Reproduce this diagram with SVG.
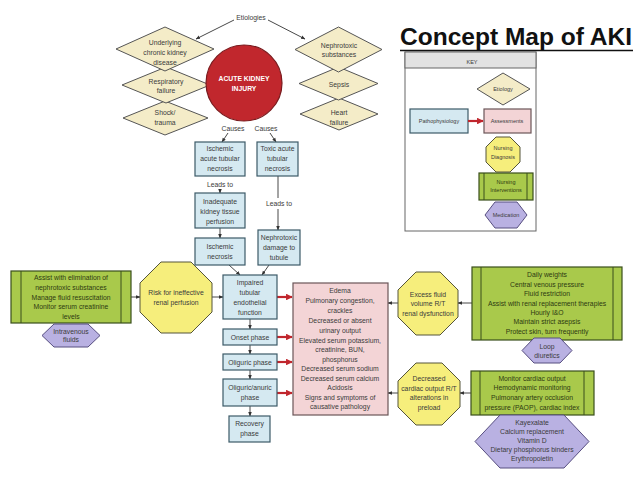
<svg xmlns="http://www.w3.org/2000/svg" width="638" height="479" viewBox="0 0 638 479">
<defs>
<marker id="ar" viewBox="0 0 10 10" refX="9" refY="5" markerWidth="5" markerHeight="5" orient="auto"><path d="M0,1 L10,5 L0,9 z" fill="#333"/></marker>
<marker id="rar" viewBox="0 0 10 10" refX="9" refY="5" markerWidth="3" markerHeight="3" orient="auto"><path d="M0,0 L10,5 L0,10 z" fill="#c0262d"/></marker>
<style>
text{font-family:"Liberation Sans",Arial,sans-serif;font-size:6.8px;fill:#3b3b3b;text-anchor:middle}
.dia{fill:#f4ecc8;stroke:#555;stroke-width:1}
.box{fill:#d5e9f1;stroke:#3c5a68;stroke-width:1.2}
.pink{fill:#f3d4d6;stroke:#6b5558;stroke-width:1.2}
.oct{fill:#f6ee7c;stroke:#55553a;stroke-width:1}
.grn{fill:#a9c94b;stroke:#3a4f1c;stroke-width:1.2}
.hex{fill:#b9b1e2;stroke:#574e80;stroke-width:1}
.ln{stroke:#333;stroke-width:0.9;fill:none}
.red{stroke:#c0262d;stroke-width:2.2;fill:none}
.g text,text.g{fill:#2e3a12}
</style>
</defs>
<rect width="638" height="479" fill="#fff"/>

<g id="title">
<text x="516" y="45" style="font-size:23px;font-weight:bold;fill:#111" textLength="232" lengthAdjust="spacingAndGlyphs">Concept Map of AKI</text>
<line x1="400" y1="50.5" x2="633" y2="50.5" stroke="#111" stroke-width="1.5"/>
</g>

<g id="key">
<rect x="405" y="52" width="131" height="179" fill="#fff" stroke="#666" stroke-width="1"/>
<rect x="405" y="52" width="131" height="16" fill="#e2e2e2" stroke="#666" stroke-width="1"/>
<text x="472" y="64" style="font-size:5.5px">KEY</text>
<polygon class="dia" points="477,89 503,73 530,89 503,105"/>
<text x="503" y="91" style="font-size:5.5px">Etiology</text>
<rect class="box" x="410" y="109" width="58" height="24"/>
<text x="439" y="123" style="font-size:5.5px">Pathophysiology</text>
<rect class="pink" x="484" y="109" width="47" height="24"/>
<text x="507" y="123" style="font-size:5.5px">Assessments</text>
<line class="red" x1="468" y1="121" x2="483" y2="121" marker-end="url(#rar)"/>
<polygon class="oct" points="496,137 510,137 520,147 520,162 510,172 496,172 486,162 486,147"/>
<text x="503" y="150" style="font-size:5.5px">Nursing</text>
<text x="503" y="159" style="font-size:5.5px">Diagnosis</text>
<rect class="grn" x="479" y="173" width="54" height="27"/>
<line x1="484" y1="173" x2="484" y2="200" stroke="#3a4f1c"/>
<line x1="527" y1="173" x2="527" y2="200" stroke="#3a4f1c"/>
<text class="g" x="506" y="184" style="font-size:5.5px">Nursing</text>
<text class="g" x="506" y="192" style="font-size:5.5px">Interventions</text>
<polygon class="hex" points="485,215 495,202 517,202 527,215 517,228 495,228"/>
<text x="506" y="217" style="font-size:5.5px">Medication</text>
</g>

<g id="connectors">
<line class="ln" x1="234" y1="20" x2="196" y2="39" marker-end="url(#ar)"/>
<line class="ln" x1="268" y1="20" x2="305" y2="39" marker-end="url(#ar)"/>
<line class="ln" x1="228" y1="133" x2="222" y2="142" marker-end="url(#ar)"/>
<line class="ln" x1="270" y1="133" x2="276" y2="142" marker-end="url(#ar)"/>
<line class="ln" x1="220" y1="189" x2="220" y2="193" marker-end="url(#ar)"/>
<line class="ln" x1="220" y1="228" x2="220" y2="238" marker-end="url(#ar)"/>
<line class="ln" x1="278" y1="176" x2="278" y2="198"/>
<line class="ln" x1="278" y1="209" x2="278" y2="230" marker-end="url(#ar)"/>
<line class="ln" x1="229" y1="265" x2="240" y2="275" marker-end="url(#ar)"/>
<line class="ln" x1="269" y1="265" x2="262" y2="275" marker-end="url(#ar)"/>
<line class="ln" x1="131" y1="297" x2="140" y2="297" marker-end="url(#ar)"/>
<line class="ln" x1="212" y1="297" x2="223" y2="297" marker-end="url(#ar)"/>
<line class="ln" x1="250" y1="319" x2="250" y2="329" marker-end="url(#ar)"/>
<line class="ln" x1="250" y1="345" x2="250" y2="354" marker-end="url(#ar)"/>
<line class="ln" x1="250" y1="370" x2="250" y2="379" marker-end="url(#ar)"/>
<line class="ln" x1="250" y1="406" x2="250" y2="416" marker-end="url(#ar)"/>
<line class="red" x1="277" y1="297" x2="292" y2="297" marker-end="url(#rar)"/>
<line class="red" x1="277" y1="337" x2="292" y2="337" marker-end="url(#rar)"/>
<line class="red" x1="277" y1="362" x2="292" y2="362" marker-end="url(#rar)"/>
<line class="red" x1="277" y1="393" x2="292" y2="393" marker-end="url(#rar)"/>
<line class="ln" x1="398" y1="303" x2="388" y2="303" marker-end="url(#ar)"/>
<line class="ln" x1="472" y1="303" x2="458" y2="303" marker-end="url(#ar)"/>
<line class="ln" x1="398" y1="393" x2="388" y2="393" marker-end="url(#ar)"/>
<line class="ln" x1="471" y1="393" x2="460" y2="393" marker-end="url(#ar)"/>
<text x="251" y="20">Etiologies</text>
<text x="233" y="131">Causes</text>
<text x="266" y="131">Causes</text>
<text x="220" y="187">Leads to</text>
<text x="279" y="206">Leads to</text>
</g>

<g id="etiology-left">
<g id="d3"><polygon class="dia" points="123,118 165,101 208,118 165,135"/>
<text x="165" y="115">Shock/</text><text x="165" y="125">trauma</text></g>
<g id="d2"><polygon class="dia" points="122,85 166,67 210,85 166,103"/>
<text x="166" y="84">Respiratory</text><text x="166" y="93">failure</text></g>
<g id="d1"><polygon class="dia" points="116,49 165,27 214,49 165,71"/>
<text x="165" y="45">Underlying</text><text x="165" y="55">chronic kidney</text><text x="165" y="65">disease</text></g>
</g>
<g id="etiology-right">
<g id="d6"><polygon class="dia" points="300,114 339,98 378,114 339,130"/>
<text x="339" y="115">Heart</text><text x="339" y="125">failure</text></g>
<g id="d5"><polygon class="dia" points="299,83.5 338.5,67 378,83.5 338.5,100"/>
<text x="339" y="86.5">Sepsis</text></g>
<g id="d4"><polygon class="dia" points="295,49.5 338.5,27 382,49.5 338.5,72"/>
<text x="339" y="48">Nephrotoxic</text><text x="339" y="57">substances</text></g>
</g>

<g id="aki">
<circle cx="244" cy="83" r="38" fill="#c1272d" stroke="#7a1a1d" stroke-width="1.2"/>
<text x="244" y="81" style="fill:#fff;font-weight:bold;font-size:6.8px">ACUTE KIDNEY</text>
<text x="244" y="91" style="fill:#fff;font-weight:bold;font-size:6.8px">INJURY</text>
</g>

<g id="ischemic-atn"><rect class="box" x="195" y="142" width="50" height="34"/>
<text x="220" y="151">Ischemic</text><text x="220" y="161">acute tubular</text><text x="220" y="171">necrosis</text></g>
<g id="toxic-atn"><rect class="box" x="257" y="142" width="41" height="34"/>
<text x="277.5" y="151">Toxic acute</text><text x="277.5" y="161">tubular</text><text x="277.5" y="171">necrosis</text></g>
<g id="inadequate"><rect class="box" x="195" y="193" width="50" height="35"/>
<text x="220" y="204">Inadequate</text><text x="220" y="214">kidney tissue</text><text x="220" y="224">perfusion</text></g>
<g id="ischemic-necrosis"><rect class="box" x="195" y="238" width="50" height="27"/>
<text x="220" y="249">Ischemic</text><text x="220" y="259">necrosis</text></g>
<g id="nephrotoxic-damage"><rect class="box" x="258" y="230" width="42" height="35"/>
<text x="279" y="240">Nephrotoxic</text><text x="279" y="250">damage to</text><text x="279" y="260">tubule</text></g>
<g id="impaired"><rect class="box" x="223" y="275" width="54" height="44"/>
<text x="250" y="285">Impaired</text><text x="250" y="295">tubular</text><text x="250" y="305">endothelial</text><text x="250" y="315">function</text></g>
<g id="onset"><rect class="box" x="223" y="329" width="54" height="16"/>
<text x="250" y="339.5">Onset phase</text></g>
<g id="oliguric"><rect class="box" x="223" y="354" width="54" height="16"/>
<text x="250" y="364.5">Oliguric phase</text></g>
<g id="anuric"><rect class="box" x="223" y="379" width="54" height="27"/>
<text x="250" y="389.5">Oliguric/anuric</text><text x="250" y="399.5">phase</text></g>
<g id="recovery"><rect class="box" x="229" y="416" width="41" height="26"/>
<text x="249.5" y="425.5">Recovery</text><text x="249.5" y="435.5">phase</text></g>

<g id="interventions-left" class="g"><rect class="grn" x="11" y="271" width="120" height="52"/>
<line x1="21" y1="271" x2="21" y2="323" stroke="#3a4f1c"/><line x1="121" y1="271" x2="121" y2="323" stroke="#3a4f1c"/>
<text x="71" y="279.5">Assist with elimination of</text><text x="71" y="289.5">nephrotoxic substances</text><text x="71" y="299.5">Manage fluid resuscitation</text><text x="71" y="308.5">Monitor serum creatinine</text><text x="71" y="318.5">levels</text></g>
<g id="iv-fluids"><polygon class="hex" points="42,335.5 54,324 88,324 100,335.5 88,347 54,347"/>
<text x="71" y="333.5">Intravenous</text><text x="71" y="342">fluids</text></g>
<g id="risk"><polygon class="oct" points="161,262 191,262 212,283 212,312 191,333 161,333 140,312 140,283"/>
<text x="176" y="294.5">Risk for ineffective</text><text x="176" y="304.5">renal perfusion</text></g>

<g id="assessments"><rect class="pink" x="293" y="283" width="95" height="132"/>
<text x="340" y="293">Edema</text>
<text x="340" y="303">Pulmonary congestion,</text>
<text x="340" y="313">crackles</text>
<text x="340" y="323">Decreased or absent</text>
<text x="340" y="332.5">urinary output</text>
<text x="340" y="342.5">Elevated serum potassium,</text>
<text x="340" y="351.5">creatinine, BUN,</text>
<text x="340" y="361.5">phosphorus</text>
<text x="340" y="371">Decreased serum sodium</text>
<text x="340" y="380.5">Decreased serum calcium</text>
<text x="340" y="390">Acidosis</text>
<text x="340" y="400">Signs and symptoms of</text>
<text x="340" y="409">causative pathology</text></g>

<g id="excess-fluid"><polygon class="oct" points="416,272 440,272 458,290 458,317 440,335 416,335 398,317 398,290"/>
<text x="428" y="296.5">Excess fluid</text><text x="428" y="305.5">volume R/T</text><text x="428" y="315.5">renal dysfunction</text></g>
<g id="decreased-co"><polygon class="oct" points="416,363 442,363 460,381 460,407 442,425 416,425 398,407 398,381"/>
<text x="429" y="380.5">Decreased</text><text x="429" y="390.5">cardiac output R/T</text><text x="429" y="399.5">alterations in</text><text x="429" y="409.5">preload</text></g>

<g id="interventions-fluid" class="g"><rect class="grn" x="472" y="267" width="150" height="73"/>
<line x1="481" y1="267" x2="481" y2="340" stroke="#3a4f1c"/><line x1="613" y1="267" x2="613" y2="340" stroke="#3a4f1c"/>
<text x="547" y="276.5">Daily weights</text><text x="547" y="286.5">Central venous pressure</text><text x="547" y="295.5">Fluid restriction</text><text x="547" y="305.5">Assist with renal replacement therapies</text><text x="547" y="314.5">Hourly I&amp;O</text><text x="547" y="323.5">Maintain strict asepsis</text><text x="547" y="333.5">Protect skin, turn frequently</text></g>
<g id="loop-diuretics"><polygon class="hex" points="522,350.5 534,338 560,338 572,350.5 560,363 534,363"/>
<text x="547" y="348.5">Loop</text><text x="547" y="357.5">diuretics</text></g>
<g id="interventions-cardiac" class="g"><rect class="grn" x="471" y="371" width="123" height="44"/>
<line x1="480" y1="371" x2="480" y2="415" stroke="#3a4f1c"/><line x1="584" y1="371" x2="584" y2="415" stroke="#3a4f1c"/>
<text x="532" y="380.5">Monitor cardiac output</text><text x="532" y="389.5">Hemodynamic monitoring</text><text x="532" y="399.5">Pulmonary artery occlusion</text><text x="532" y="409.5">pressure (PAOP), cardiac index</text></g>
<g id="medications"><polygon class="hex" points="475,441.5 500,415 564,415 589,441.5 564,468 500,468"/>
<text x="532" y="424.5">Kayexalate</text><text x="532" y="433.5">Calcium replacement</text><text x="532" y="442.5">Vitamin D</text><text x="532" y="451.5">Dietary phosphorus binders</text><text x="532" y="460.5">Erythropoietin</text></g>
</svg>
